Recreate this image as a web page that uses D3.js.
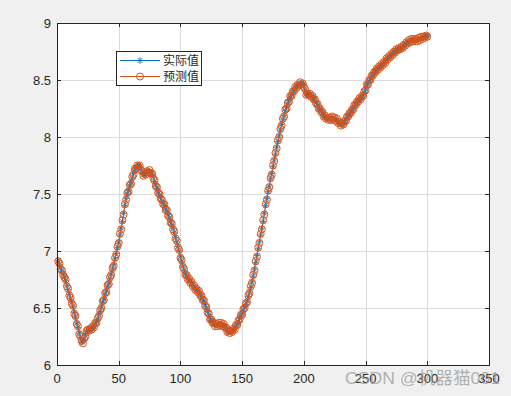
<!DOCTYPE html>
<html>
<head>
<meta charset="utf-8">
<script src="https://cdn.jsdelivr.net/npm/d3@7"></script>
<style>
  body { margin: 0; background: #f0f0f0; }
  svg { display: block; }
</style>
</head>
<body>
<svg id="chart" width="511" height="396"></svg>
<script>
// 实际值 (actual), index 1..300
var actual = [
  6.92, 6.88, 6.85, 6.82, 6.80, 6.77, 6.74, 6.70, 6.66, 6.62,
  6.58, 6.55, 6.51, 6.46, 6.42, 6.37, 6.33, 6.28, 6.24, 6.20,
  6.21, 6.22, 6.26, 6.29, 6.30, 6.31, 6.31, 6.32, 6.33, 6.34,
  6.36, 6.38, 6.40, 6.44, 6.47, 6.51, 6.55, 6.58, 6.62, 6.65,
  6.69, 6.72, 6.76, 6.80, 6.84, 6.88, 6.93, 6.98, 7.03, 7.08,
  7.14, 7.20, 7.26, 7.33, 7.40, 7.46, 7.50, 7.53, 7.57, 7.60,
  7.64, 7.68, 7.71, 7.73, 7.74, 7.75, 7.74, 7.72, 7.69, 7.67,
  7.67, 7.68, 7.69, 7.70, 7.70, 7.69, 7.67, 7.65, 7.61, 7.58,
  7.55, 7.52, 7.49, 7.47, 7.44, 7.42, 7.40, 7.37, 7.35, 7.32,
  7.29, 7.26, 7.23, 7.20, 7.16, 7.12, 7.08, 7.04, 7.00, 6.95,
  6.91, 6.87, 6.83, 6.80, 6.78, 6.76, 6.75, 6.73, 6.72, 6.70,
  6.69, 6.67, 6.66, 6.65, 6.64, 6.62, 6.60, 6.58, 6.56, 6.53,
  6.50, 6.47, 6.44, 6.41, 6.39, 6.38, 6.36, 6.35, 6.35, 6.35,
  6.36, 6.36, 6.36, 6.35, 6.35, 6.34, 6.32, 6.30, 6.29, 6.29,
  6.29, 6.30, 6.31, 6.32, 6.34, 6.36, 6.38, 6.41, 6.43, 6.45,
  6.48, 6.51, 6.53, 6.56, 6.60, 6.64, 6.68, 6.73, 6.78, 6.84,
  6.90, 6.96, 7.02, 7.08, 7.14, 7.20, 7.26, 7.33, 7.40, 7.46,
  7.52, 7.57, 7.63, 7.68, 7.74, 7.80, 7.85, 7.91, 7.96, 8.01,
  8.06, 8.11, 8.15, 8.19, 8.23, 8.26, 8.29, 8.32, 8.35, 8.37,
  8.39, 8.41, 8.43, 8.44, 8.45, 8.46, 8.47, 8.47, 8.46, 8.45,
  8.41, 8.38, 8.37, 8.38, 8.37, 8.36, 8.35, 8.34, 8.32, 8.30,
  8.28, 8.26, 8.24, 8.23, 8.21, 8.19, 8.18, 8.17, 8.16, 8.16,
  8.16, 8.16, 8.17, 8.16, 8.16, 8.15, 8.15, 8.13, 8.12, 8.11,
  8.11, 8.12, 8.13, 8.15, 8.17, 8.19, 8.20, 8.22, 8.23, 8.25,
  8.27, 8.29, 8.30, 8.32, 8.33, 8.34, 8.35, 8.37, 8.39, 8.42,
  8.45, 8.47, 8.49, 8.51, 8.53, 8.55, 8.56, 8.58, 8.59, 8.60,
  8.61, 8.62, 8.63, 8.64, 8.65, 8.66, 8.68, 8.69, 8.70, 8.71,
  8.72, 8.73, 8.74, 8.75, 8.76, 8.77, 8.77, 8.78, 8.78, 8.79,
  8.80, 8.81, 8.82, 8.83, 8.84, 8.84, 8.85, 8.85, 8.85, 8.85,
  8.85, 8.85, 8.86, 8.86, 8.87, 8.87, 8.87, 8.88, 8.88, 8.89
];

// 预测值 (predicted), index 1..300
var predicted = [
  6.91, 6.89, 6.84, 6.83, 6.79, 6.77, 6.75, 6.69, 6.67, 6.61,
  6.59, 6.54, 6.52, 6.45, 6.43, 6.36, 6.34, 6.27, 6.25, 6.21,
  6.19, 6.23, 6.25, 6.30, 6.31, 6.30, 6.32, 6.31, 6.34, 6.33,
  6.37, 6.37, 6.41, 6.43, 6.48, 6.50, 6.56, 6.57, 6.63, 6.64,
  6.70, 6.71, 6.77, 6.79, 6.85, 6.87, 6.94, 6.97, 7.04, 7.07,
  7.15, 7.19, 7.27, 7.32, 7.41, 7.45, 7.51, 7.52, 7.58, 7.59,
  7.65, 7.67, 7.72, 7.72, 7.75, 7.74, 7.75, 7.71, 7.70, 7.66,
  7.68, 7.67, 7.70, 7.69, 7.71, 7.68, 7.68, 7.64, 7.62, 7.57,
  7.56, 7.51, 7.50, 7.46, 7.45, 7.41, 7.41, 7.36, 7.36, 7.31,
  7.30, 7.25, 7.24, 7.19, 7.17, 7.11, 7.09, 7.03, 7.01, 6.94,
  6.92, 6.86, 6.84, 6.79, 6.79, 6.75, 6.76, 6.72, 6.73, 6.69,
  6.70, 6.66, 6.67, 6.64, 6.65, 6.61, 6.61, 6.57, 6.57, 6.52,
  6.51, 6.46, 6.45, 6.40, 6.40, 6.37, 6.37, 6.34, 6.36, 6.34,
  6.37, 6.35, 6.37, 6.34, 6.36, 6.33, 6.33, 6.29, 6.30, 6.28,
  6.30, 6.29, 6.32, 6.31, 6.35, 6.35, 6.39, 6.40, 6.44, 6.44,
  6.49, 6.50, 6.54, 6.55, 6.61, 6.63, 6.69, 6.72, 6.79, 6.83,
  6.91, 6.95, 7.03, 7.07, 7.15, 7.19, 7.27, 7.32, 7.41, 7.45,
  7.53, 7.56, 7.64, 7.67, 7.75, 7.79, 7.86, 7.90, 7.97, 8.00,
  8.07, 8.10, 8.16, 8.18, 8.24, 8.25, 8.30, 8.31, 8.36, 8.36,
  8.40, 8.40, 8.44, 8.43, 8.46, 8.45, 8.48, 8.46, 8.47, 8.44,
  8.42, 8.37, 8.38, 8.37, 8.38, 8.35, 8.36, 8.33, 8.33, 8.29,
  8.29, 8.25, 8.25, 8.22, 8.22, 8.18, 8.19, 8.16, 8.17, 8.15,
  8.17, 8.15, 8.18, 8.15, 8.17, 8.14, 8.16, 8.12, 8.13, 8.10,
  8.12, 8.11, 8.14, 8.14, 8.18, 8.18, 8.21, 8.21, 8.24, 8.24,
  8.28, 8.28, 8.31, 8.31, 8.34, 8.33, 8.36, 8.36, 8.40, 8.41,
  8.46, 8.46, 8.50, 8.50, 8.54, 8.54, 8.57, 8.57, 8.60, 8.59,
  8.62, 8.61, 8.64, 8.63, 8.66, 8.65, 8.69, 8.68, 8.71, 8.70,
  8.73, 8.72, 8.75, 8.74, 8.77, 8.76, 8.78, 8.77, 8.79, 8.78,
  8.81, 8.80, 8.83, 8.82, 8.85, 8.83, 8.86, 8.84, 8.86, 8.84,
  8.86, 8.84, 8.87, 8.85, 8.88, 8.86, 8.88, 8.87, 8.89, 8.88
];

var xTicks = [0, 50, 100, 150, 200, 250, 300, 350];
var yTicks = [6, 6.5, 7, 7.5, 8, 8.5, 9];
var seriesNames = ["实际值", "预测值"];

var margin = { top: 23, right: 22, bottom: 31, left: 57 };
var width = 511, height = 396;
var axisColor = "#262626";
var blue = "#0072BD", orange = "#D95319";

var svg = d3.select("#chart");

var x = d3.scaleLinear().domain([0, 350]).range([margin.left, width - margin.right]);
var y = d3.scaleLinear().domain([6, 9]).range([height - margin.bottom, margin.top]);

// plot area
svg.append("rect")
    .attr("x", x(0)).attr("y", y(9))
    .attr("width", x(350) - x(0)).attr("height", y(6) - y(9))
    .attr("fill", "#fff");

// grid
var grid = svg.append("g").attr("stroke", "#dcdcdc").attr("stroke-width", 1);
grid.selectAll("line.gx").data(xTicks.slice(1, -1)).join("line")
    .attr("x1", d => Math.round(x(d)) + 0.5).attr("x2", d => Math.round(x(d)) + 0.5)
    .attr("y1", y(6)).attr("y2", y(9));
grid.selectAll("line.gy").data(yTicks.slice(1, -1)).join("line")
    .attr("y1", d => Math.round(y(d)) + 0.5).attr("y2", d => Math.round(y(d)) + 0.5)
    .attr("x1", x(0)).attr("x2", x(350));

// series
var idx = d3.range(1, actual.length + 1);
var line = d3.line().x(d => x(d[0])).y(d => y(d[1]));
var actualPts = idx.map((i, k) => [i, actual[k]]);
var predPts = idx.map((i, k) => [i, predicted[k]]);

var plot = svg.append("g");

plot.append("path").datum(actualPts)
    .attr("fill", "none").attr("stroke", blue).attr("stroke-width", 0.8)
    .attr("d", line);

function asterisk(g, cx, cy, s, color) {
    var r = s / 2, d = r * 0.72;
    g.append("path")
        .attr("d", `M${cx - r},${cy}L${cx + r},${cy}M${cx},${cy - r}L${cx},${cy + r}` +
            `M${cx - d},${cy - d}L${cx + d},${cy + d}M${cx - d},${cy + d}L${cx + d},${cy - d}`)
        .attr("stroke", color).attr("stroke-width", 0.8).attr("fill", "none");
}

var stars = plot.append("g");
actualPts.forEach(p => asterisk(stars, x(p[0]), y(p[1]), 6, blue));

plot.append("path").datum(predPts)
    .attr("fill", "none").attr("stroke", orange).attr("stroke-width", 0.8)
    .attr("d", line);

plot.append("g").selectAll("circle").data(predPts).join("circle")
    .attr("cx", d => x(d[0])).attr("cy", d => y(d[1]))
    .attr("r", 3.5)
    .attr("fill", "none").attr("stroke", orange).attr("stroke-width", 1);

// axes box
var axes = svg.append("g").attr("font-family", "'Liberation Sans', Arial, sans-serif")
    .attr("font-size", 13).attr("fill", axisColor);

axes.append("rect")
    .attr("x", Math.round(x(0)) + 0.5).attr("y", Math.round(y(9)) + 0.5)
    .attr("width", Math.round(x(350)) - Math.round(x(0))).attr("height", Math.round(y(6)) - Math.round(y(9)))
    .attr("fill", "none").attr("stroke", axisColor).attr("stroke-width", 1);

var tickLen = 4;
xTicks.forEach(t => {
    var px = Math.round(x(t)) + 0.5;
    axes.append("line").attr("x1", px).attr("x2", px)
        .attr("y1", y(6)).attr("y2", y(6) - tickLen).attr("stroke", axisColor);
    axes.append("line").attr("x1", px).attr("x2", px)
        .attr("y1", y(9)).attr("y2", y(9) + tickLen).attr("stroke", axisColor);
    axes.append("text").attr("x", x(t)).attr("y", y(6) + 18)
        .attr("text-anchor", "middle").text(t);
});
yTicks.forEach(t => {
    var py = Math.round(y(t)) + 0.5;
    axes.append("line").attr("y1", py).attr("y2", py)
        .attr("x1", x(0)).attr("x2", x(0) + tickLen).attr("stroke", axisColor);
    axes.append("line").attr("y1", py).attr("y2", py)
        .attr("x1", x(350)).attr("x2", x(350) - tickLen).attr("stroke", axisColor);
    axes.append("text").attr("x", x(0) - 6).attr("y", y(t) + 4.5)
        .attr("text-anchor", "end").text(t);
});

// legend
var lg = svg.append("g");
lg.append("rect").attr("x", 116.5).attr("y", 51.5).attr("width", 85).attr("height", 34)
    .attr("fill", "#fff").attr("stroke", axisColor).attr("stroke-width", 1);
[0, 1].forEach(k => {
    var ly = 60.5 + k * 16;
    var c = k === 0 ? blue : orange;
    lg.append("line").attr("x1", 120).attr("x2", 160).attr("y1", ly).attr("y2", ly)
        .attr("stroke", c).attr("stroke-width", 1);
    if (k === 0) asterisk(lg, 140, ly, 7, c);
    else lg.append("circle").attr("cx", 140).attr("cy", ly).attr("r", 3.5)
        .attr("fill", "none").attr("stroke", c).attr("stroke-width", 1);
    lg.append("text").attr("x", 163).attr("y", ly + 4.5)
        .attr("font-family", "'Noto Sans CJK SC', sans-serif").attr("font-size", 12)
        .attr("fill", axisColor).text(seriesNames[k]);
});

// watermark (overlaps the tick labels, as in the reference)
svg.append("text").attr("x", 345).attr("y", 384)
    .attr("font-family", "'Liberation Sans', 'Noto Sans CJK SC', sans-serif")
    .attr("font-size", 17).attr("fill", "#999").attr("fill-opacity", 0.75)
    .attr("textLength", 155).attr("lengthAdjust", "spacingAndGlyphs")
    .text("CSDN @机器猫001");
</script>
</body>
</html>
